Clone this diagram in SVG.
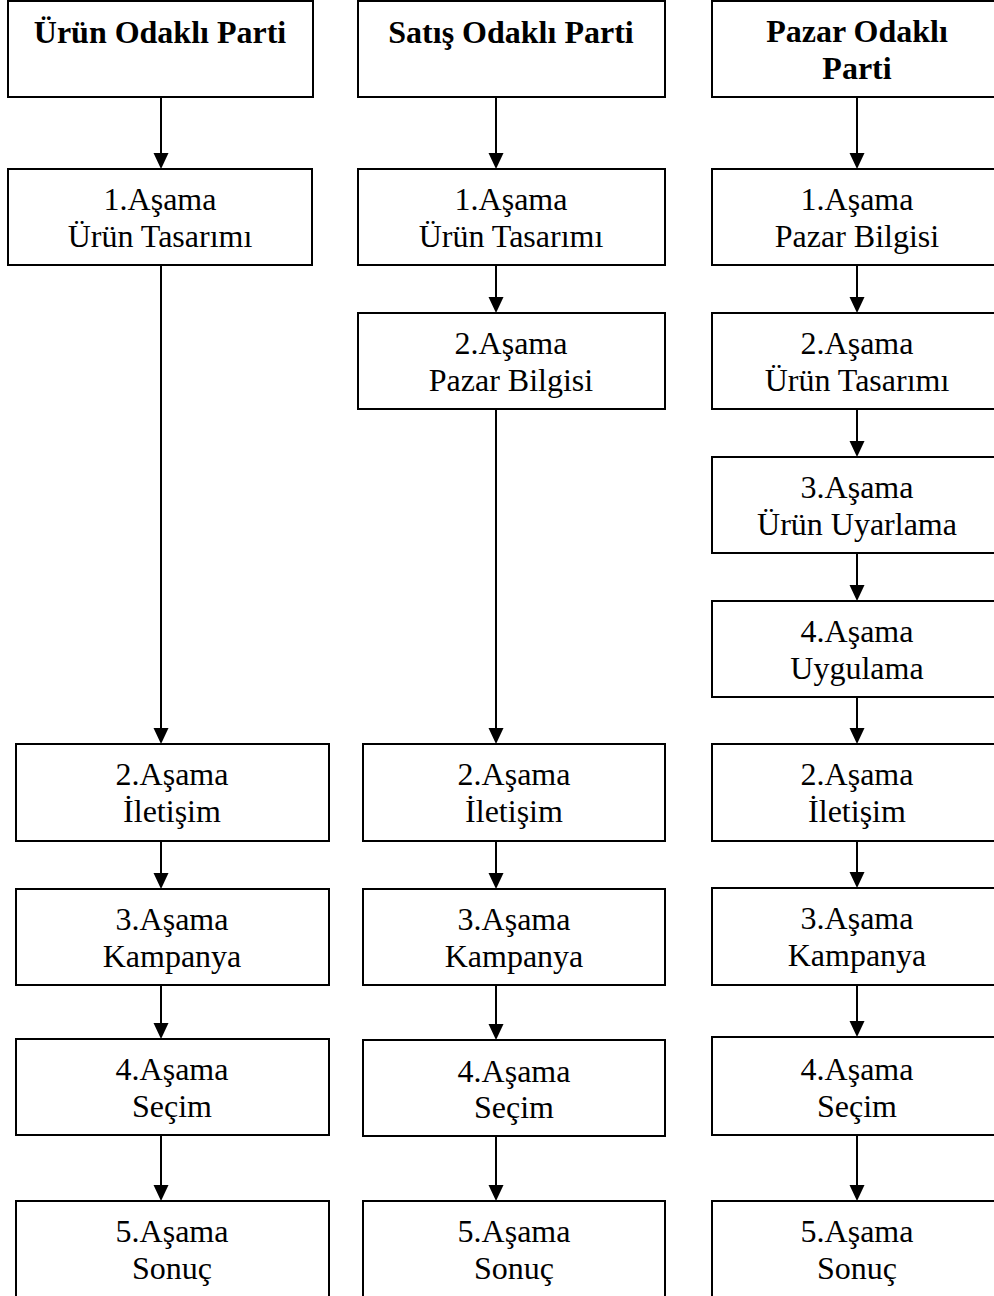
<svg xmlns="http://www.w3.org/2000/svg" width="994" height="1296" viewBox="0 0 994 1296">
  <style>
    .box { fill: #ffffff; stroke: #000000; stroke-width: 2; }
    .lbl { font-family: "Liberation Serif", "Times New Roman", serif; font-size: 32px; fill: #000000; text-anchor: middle; }
    .hdr { font-weight: bold; }
    .edge { stroke: #000000; stroke-width: 2; fill: none; marker-end: url(#arrow); }
  </style>
  <defs>
    <marker id="arrow" markerUnits="userSpaceOnUse" markerWidth="16" markerHeight="16" refX="12" refY="7.5" orient="auto">
      <path d="M0,0 L16,7.5 L0,15 Z" fill="#000000"/>
    </marker>
  </defs>
  <rect width="994" height="1296" fill="#ffffff"/>

  <!-- Column 1: Ürün Odaklı Parti -->
  <g id="c1-head"><rect class="box" x="8" y="1" width="305" height="96"/><text class="lbl hdr" x="160" y="43">Ürün Odaklı Parti</text></g>
  <g id="c1-s1"><rect class="box" x="8" y="169" width="304" height="96"/><text class="lbl" x="160" y="210">1.Aşama</text><text class="lbl" x="160" y="247">Ürün Tasarımı</text></g>
  <g id="c1-s2"><rect class="box" x="16" y="744" width="313" height="97"/><text class="lbl" x="172" y="785">2.Aşama</text><text class="lbl" x="172" y="822">İletişim</text></g>
  <g id="c1-s3"><rect class="box" x="16" y="889" width="313" height="96"/><text class="lbl" x="172" y="930">3.Aşama</text><text class="lbl" x="172" y="967">Kampanya</text></g>
  <g id="c1-s4"><rect class="box" x="16" y="1039" width="313" height="96"/><text class="lbl" x="172" y="1080">4.Aşama</text><text class="lbl" x="172" y="1117">Seçim</text></g>
  <g id="c1-s5"><rect class="box" x="16" y="1201" width="313" height="110"/><text class="lbl" x="172" y="1242">5.Aşama</text><text class="lbl" x="172" y="1279">Sonuç</text></g>

  <!-- Column 2: Satış Odaklı Parti -->
  <g id="c2-head"><rect class="box" x="358" y="1" width="307" height="96"/><text class="lbl hdr" x="511" y="43">Satış Odaklı Parti</text></g>
  <g id="c2-s1"><rect class="box" x="358" y="169" width="307" height="96"/><text class="lbl" x="511" y="210">1.Aşama</text><text class="lbl" x="511" y="247">Ürün Tasarımı</text></g>
  <g id="c2-s2"><rect class="box" x="358" y="313" width="307" height="96"/><text class="lbl" x="511" y="354">2.Aşama</text><text class="lbl" x="511" y="391">Pazar Bilgisi</text></g>
  <g id="c2-s3"><rect class="box" x="363" y="744" width="302" height="97"/><text class="lbl" x="514" y="785">2.Aşama</text><text class="lbl" x="514" y="822">İletişim</text></g>
  <g id="c2-s4"><rect class="box" x="363" y="889" width="302" height="96"/><text class="lbl" x="514" y="930">3.Aşama</text><text class="lbl" x="514" y="967">Kampanya</text></g>
  <g id="c2-s5"><rect class="box" x="363" y="1040" width="302" height="96"/><text class="lbl" x="514" y="1082">4.Aşama</text><text class="lbl" x="514" y="1118">Seçim</text></g>
  <g id="c2-s6"><rect class="box" x="363" y="1201" width="302" height="110"/><text class="lbl" x="514" y="1242">5.Aşama</text><text class="lbl" x="514" y="1279">Sonuç</text></g>

  <!-- Column 3: Pazar Odaklı Parti -->
  <g id="c3-head"><rect class="box" x="712" y="1" width="290" height="96"/><text class="lbl hdr" x="857" y="42">Pazar Odaklı</text><text class="lbl hdr" x="857" y="79">Parti</text></g>
  <g id="c3-s1"><rect class="box" x="712" y="169" width="290" height="96"/><text class="lbl" x="857" y="210">1.Aşama</text><text class="lbl" x="857" y="247">Pazar Bilgisi</text></g>
  <g id="c3-s2"><rect class="box" x="712" y="313" width="290" height="96"/><text class="lbl" x="857" y="354">2.Aşama</text><text class="lbl" x="857" y="391">Ürün Tasarımı</text></g>
  <g id="c3-s3"><rect class="box" x="712" y="457" width="290" height="96"/><text class="lbl" x="857" y="498">3.Aşama</text><text class="lbl" x="857" y="535">Ürün Uyarlama</text></g>
  <g id="c3-s4"><rect class="box" x="712" y="601" width="290" height="96"/><text class="lbl" x="857" y="642">4.Aşama</text><text class="lbl" x="857" y="679">Uygulama</text></g>
  <g id="c3-s5"><rect class="box" x="712" y="744" width="290" height="97"/><text class="lbl" x="857" y="785">2.Aşama</text><text class="lbl" x="857" y="822">İletişim</text></g>
  <g id="c3-s6"><rect class="box" x="712" y="888" width="290" height="97"/><text class="lbl" x="857" y="929">3.Aşama</text><text class="lbl" x="857" y="966">Kampanya</text></g>
  <g id="c3-s7"><rect class="box" x="712" y="1037" width="290" height="98"/><text class="lbl" x="857" y="1080">4.Aşama</text><text class="lbl" x="857" y="1117">Seçim</text></g>
  <g id="c3-s8"><rect class="box" x="712" y="1201" width="290" height="110"/><text class="lbl" x="857" y="1242">5.Aşama</text><text class="lbl" x="857" y="1279">Sonuç</text></g>

  <!-- Connectors (line ends 4px short; marker tip lands on the box edge) -->
  <g id="connectors">
    <line class="edge" x1="161" y1="97" x2="161" y2="165"/>
    <line class="edge" x1="161" y1="265" x2="161" y2="740"/>
    <line class="edge" x1="161" y1="841" x2="161" y2="885"/>
    <line class="edge" x1="161" y1="985" x2="161" y2="1035"/>
    <line class="edge" x1="161" y1="1135" x2="161" y2="1197"/>

    <line class="edge" x1="496" y1="97" x2="496" y2="165"/>
    <line class="edge" x1="496" y1="265" x2="496" y2="309"/>
    <line class="edge" x1="496" y1="409" x2="496" y2="740"/>
    <line class="edge" x1="496" y1="841" x2="496" y2="885"/>
    <line class="edge" x1="496" y1="985" x2="496" y2="1036"/>
    <line class="edge" x1="496" y1="1136" x2="496" y2="1197"/>

    <line class="edge" x1="857" y1="97" x2="857" y2="165"/>
    <line class="edge" x1="857" y1="265" x2="857" y2="309"/>
    <line class="edge" x1="857" y1="409" x2="857" y2="453"/>
    <line class="edge" x1="857" y1="553" x2="857" y2="597"/>
    <line class="edge" x1="857" y1="697" x2="857" y2="740"/>
    <line class="edge" x1="857" y1="841" x2="857" y2="884"/>
    <line class="edge" x1="857" y1="985" x2="857" y2="1033"/>
    <line class="edge" x1="857" y1="1135" x2="857" y2="1197"/>
  </g>
</svg>
